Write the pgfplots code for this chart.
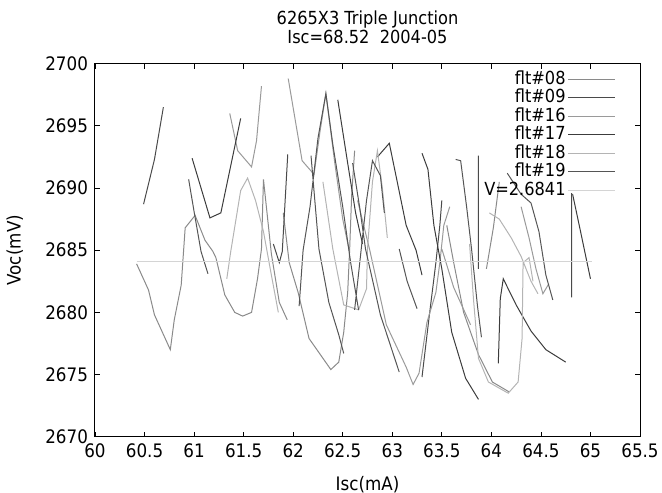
\documentclass[border=0pt]{standalone}
\usepackage{fontspec}
\setmainfont{DejaVu Sans}[FakeStretch=0.9]
\usepackage{pgfplots}
\pgfplotsset{compat=1.18}

\definecolor{c08}{HTML}{8A8A8A}
\definecolor{c09}{HTML}{4A4A4A}
\definecolor{c16}{HTML}{9A9A9A}
\definecolor{c17}{HTML}{3C3C3C}
\definecolor{c18}{HTML}{B4B4B4}
\definecolor{c19}{HTML}{555555}
\definecolor{cv}{HTML}{D4D4D4}

\begin{document}
\begin{tikzpicture}
\begin{axis}[
    scale only axis,
    width=272.5pt, height=186.5pt,
    xmin=60, xmax=65.5,
    ymin=2670, ymax=2700,
    xtick={60,60.5,61,61.5,62,62.5,63,63.5,64,64.5,65,65.5},
    ytick={2670,2675,2680,2685,2690,2695,2700},
    tick align=inside,
    major tick length=2.5pt,
    tick style={black, line width=0.4pt},
    axis line style={line width=0.5pt},
    /pgf/number format/assume math mode=true,
    /pgf/number format/1000 sep={},
    xticklabel style={/pgf/number format/fixed, /pgf/number format/precision=1},
    tick label style={font=\fontsize{9.3}{11}\selectfont},
    title={6265X3 Triple Junction\\Isc=68.52~~2004-05},
    title style={at={(axis description cs:0.5,1)}, anchor=south, yshift=4pt,
        inner sep=0pt, align=center, font=\fontsize{9}{9.5}\selectfont},
    xlabel={Isc(mA)},
    xlabel style={at={(axis description cs:0.5,-0.1287)}, anchor=center,
        font=\fontsize{9.3}{11}\selectfont},
    ylabel={Voc(mV)},
    ylabel style={at={(axis description cs:-0.147,0.5)}, anchor=center,
        font=\fontsize{9.3}{11}\selectfont},
    unbounded coords=jump,
    legend cell align=right,
    legend plot pos=right,
    legend image code/.code={\draw[#1] (4pt,0pt) -- (27.5pt,0pt);},
    legend style={at={(axis description cs:1,1)}, anchor=north east,
        xshift=-9pt, yshift=-0.5pt, draw=none, fill=none,
        font=\fontsize{9}{10}\selectfont, row sep=-1pt,
        nodes={inner sep=1pt, text height=6.5pt, text depth=1.75pt}},
    every axis plot/.append style={line width=0.5pt},
]
% flt#08
\addplot[c08] coordinates {
 (60.42,2683.9)(60.54,2681.8)(60.60,2679.8)(60.76,2677.0)(60.80,2679.4)(60.87,2682.2)
 (60.91,2686.8)(61.01,2687.8)(61.11,2685.8)(61.19,2684.9)(61.22,2684.4)(61.31,2681.4)
 (61.41,2680.0)(61.49,2679.7)(61.58,2680.0)(61.64,2682.7)(61.68,2685.1)(61.70,2690.7)
 (61.78,2684.7)(61.86,2680.8)(61.94,2679.4)
 (61.94,nan)
 (61.90,2688.0)(61.96,2684.0)(62.05,2681.6)(62.16,2677.9)(62.38,2675.4)(62.46,2676.0)
 (62.51,2678.4)(62.55,2681.6)(62.57,2685.1)(62.59,2689.4)(62.62,2693.0)
 (62.62,nan)
 (63.55,2687.0)(63.62,2684.0)(63.72,2680.0)(63.87,2676.6)(64.01,2674.4)(64.18,2673.6)
 (64.18,nan)
 (63.95,2683.5)(64.02,2686.8)(64.08,2690.5)
};
% flt#09
\addplot[c09] coordinates {
 (60.49,2688.7)(60.60,2692.3)(60.69,2696.5)
 (60.69,nan)
 (61.80,2685.5)(61.86,2684.0)(61.89,2684.9)(61.945,2692.7)
 (61.945,nan)
 (63.30,2674.8)(63.37,2679.5)(63.44,2684.0)(63.48,2687.0)(63.50,2689.0)
 (63.50,nan)
 (63.87,2692.6)(63.87,2683.5)
 (63.87,nan)
 (64.81,2689.6)(64.81,2681.2)
};
% flt#16
\addplot[c16] coordinates {
 (61.36,2696.0)(61.44,2693.0)(61.58,2691.7)(61.63,2693.8)(61.68,2698.2)
 (61.68,nan)
 (61.95,2698.8)(62.09,2692.2)(62.21,2691.1)(62.27,2694.5)(62.33,2697.6)(62.42,2692.0)
 (62.50,2687.5)(62.57,2684.8)
 (62.57,nan)
 (62.65,2689.0)(62.77,2685.1)(62.94,2679.0)(63.14,2675.6)(63.21,2674.2)(63.27,2675.1)
 (63.35,2679.2)(63.44,2681.6)(63.48,2684.0)(63.52,2687.0)(63.58,2688.5)
 (63.58,nan)
 (63.50,2685.1)(63.62,2682.0)(63.79,2679.0)
 (63.79,nan)
 (64.30,2688.5)(64.38,2686.0)(64.45,2683.5)(64.52,2681.5)(64.58,2682.3)
};
% flt#17
\addplot[c17] coordinates {
 (60.98,2692.4)(61.16,2687.6)(61.27,2688.0)(61.47,2695.6)
 (61.47,nan)
 (62.45,2697.1)(62.55,2692.0)(62.63,2688.0)(62.70,2685.5)
 (62.70,nan)
 (62.85,2692.5)(62.97,2693.6)(63.05,2690.5)(63.14,2687.0)(63.24,2685.0)(63.30,2683.0)
 (63.30,nan)
 (63.30,2692.8)(63.36,2691.5)(63.42,2687.0)(63.50,2683.5)(63.60,2678.4)(63.74,2674.7)(63.87,2673.0)
 (63.87,nan)
 (64.07,2675.9)(64.09,2681.1)(64.12,2682.7)(64.25,2680.6)(64.40,2678.5)(64.55,2677.0)(64.75,2676.0)
 (64.75,nan)
 (64.82,2689.5)(64.90,2686.5)(65.00,2682.7)
};
% flt#18
\addplot[c18] coordinates {
 (61.33,2682.7)(61.37,2684.9)(61.47,2689.8)(61.54,2690.8)(61.62,2689.0)(61.70,2686.5)
 (61.78,2683.0)(61.85,2680.0)
 (61.85,nan)
 (62.30,2690.5)(62.40,2685.1)(62.51,2680.6)(62.66,2680.2)(62.74,2681.9)(62.75,2685.1)
 (62.80,2690.5)(62.85,2693.0)(62.90,2690.0)(62.95,2686.0)
 (62.95,nan)
 (63.78,2685.5)(63.82,2681.0)(63.87,2676.3)(63.97,2674.4)(64.17,2673.5)(64.27,2674.4)
 (64.31,2677.9)(64.32,2684.0)(64.38,2684.4)(64.42,2682.5)
 (64.42,nan)
 (63.98,2688.0)(64.08,2687.5)(64.20,2686.0)(64.30,2684.5)(64.40,2682.5)(64.47,2681.5)
};
% flt#19
\addplot[c19] coordinates {
 (60.945,2690.7)(61.00,2688.1)(61.07,2684.9)(61.14,2683.1)
 (61.14,nan)
 (62.06,2680.5)(62.10,2685.0)(62.17,2688.5)(62.25,2694.0)(62.33,2697.6)(62.40,2693.5)
 (62.50,2688.5)(62.58,2684.0)(62.66,2680.2)
 (62.66,nan)
 (62.18,2692.6)(62.26,2685.1)(62.36,2680.8)(62.46,2678.2)(62.51,2676.7)
 (62.51,nan)
 (62.62,2680.2)(62.68,2684.6)(62.74,2689.0)(62.80,2692.2)(62.88,2691.0)(62.92,2688.0)
 (62.92,nan)
 (62.60,2692.0)(62.67,2688.5)(62.73,2685.1)(62.88,2679.8)(63.07,2675.2)
 (63.07,nan)
 (63.07,2685.1)(63.15,2682.5)(63.25,2680.3)
 (63.25,nan)
 (63.64,2692.3)(63.69,2692.2)(63.75,2688.5)(63.80,2685.1)(63.86,2680.5)(63.90,2678.0)
 (63.90,nan)
 (64.16,2691.2)(64.30,2689.5)(64.40,2688.8)(64.48,2686.5)(64.55,2683.0)(64.62,2681.0)
};
% V=2.6841
\addplot[cv] coordinates {(60.42,2684.1)(65.02,2684.1)};
\legend{flt\#08,flt\#09,flt\#16,flt\#17,flt\#18,flt\#19,V=2.6841}
\end{axis}
\pgfresetboundingbox
\path (-47.5pt,-28pt) rectangle (283.5pt,218.35pt);
\end{tikzpicture}
\end{document}
